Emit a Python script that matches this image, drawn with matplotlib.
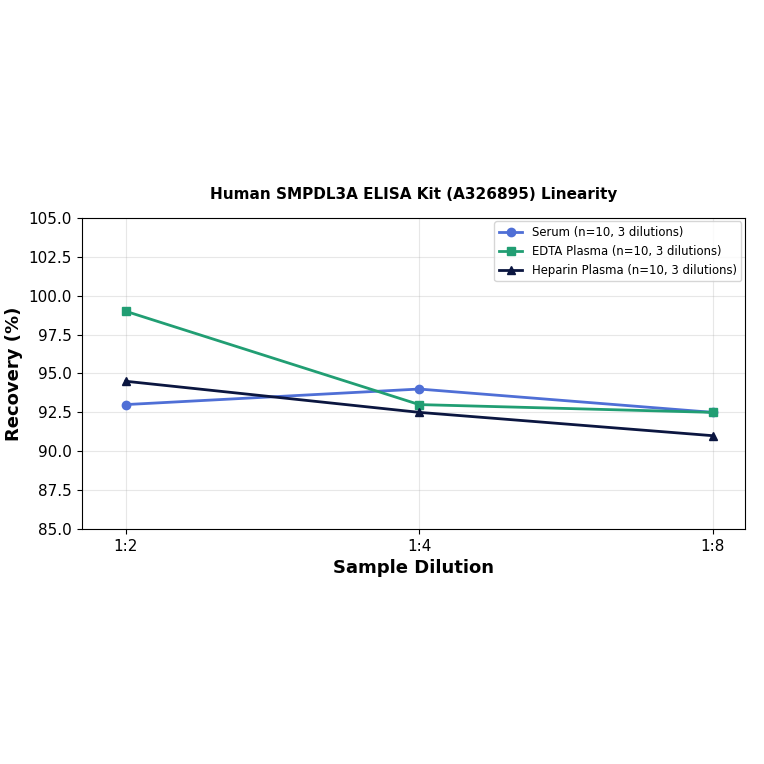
import matplotlib.pyplot as plt
import numpy as np

dilutions = ['1:2', '1:4', '1:8']
serum = [93.0, 94.0, 92.5]
edta = [99.0, 93.0, 92.5]
heparin = [94.5, 92.5, 91.0]

x = np.arange(len(dilutions))

fig = plt.figure(figsize=(7.64, 7.64), dpi=100)
ax = fig.add_axes([0.107, 0.3076, 0.868, 0.4071])

ax.plot(x, serum, marker='o', color='#4f6fd6', linewidth=2, markersize=6, label='Serum (n=10, 3 dilutions)')
ax.plot(x, edta, marker='s', color='#219e73', linewidth=2, markersize=6, label='EDTA Plasma (n=10, 3 dilutions)')
ax.plot(x, heparin, marker='^', color='#0b1640', linewidth=2, markersize=6, label='Heparin Plasma (n=10, 3 dilutions)')

ax.set_xticks(x)
ax.set_xticklabels(dilutions, fontsize=11)
ax.tick_params(axis='y', labelsize=11)
ax.set_xlim(-0.15, 2.11)
ax.set_ylim(85, 105)
ax.set_yticks(np.arange(85, 105.1, 2.5))

ax.set_xlabel('Sample Dilution', fontsize=13, fontweight='bold')
ax.set_ylabel('Recovery (%)', fontsize=13, fontweight='bold')
ax.set_title('Human SMPDL3A ELISA Kit (A326895) Linearity', fontsize=11, fontweight='bold', pad=14)

ax.grid(True, alpha=0.3, linewidth=0.8)
ax.legend(loc='upper right', fontsize=8.4, borderaxespad=0.3)

fig.savefig('out.png', dpi=100)
